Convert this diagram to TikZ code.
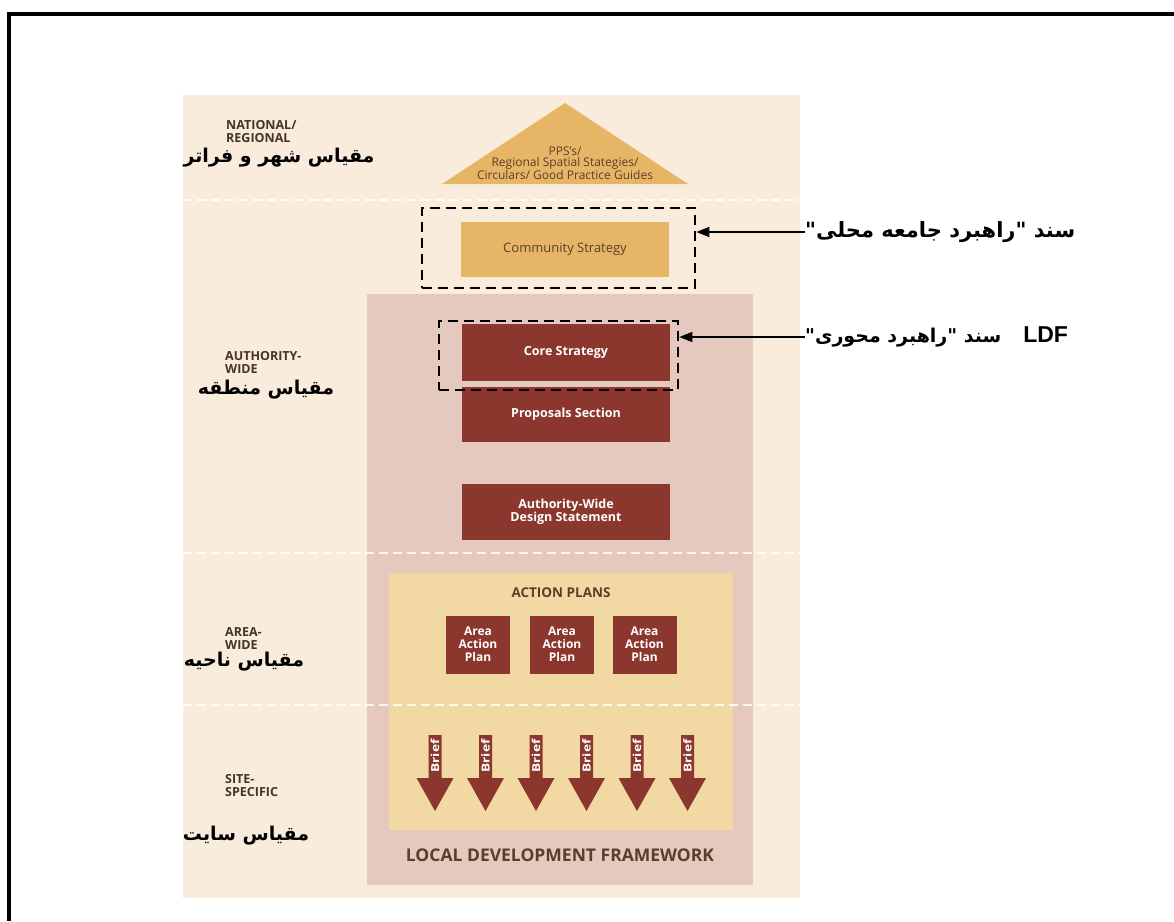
\documentclass[tikz,border=0pt]{standalone}
\usepackage{fontspec}
\setmainfont{Open Sans}
\newfontfamily\fa[Script=Arabic]{DejaVu Sans}
\newfontfamily\lsans{Liberation Sans}
\usetikzlibrary{arrows.meta}
\TeXXeTstate=1
\definecolor{cream}{RGB}{250,236,220}
\definecolor{pinkp}{RGB}{229,201,191}
\definecolor{yellowp}{RGB}{242,216,162}
\definecolor{gold}{RGB}{230,182,102}
\definecolor{dred}{RGB}{139,55,46}
\definecolor{lbltext}{RGB}{70,50,45}
\definecolor{brownt}{RGB}{92,62,42}
\newcommand\dq{\mbox{"}}
\tikzset{
  panel/.style={inner sep=0pt, outer sep=0pt},
  redbox/.style={fill=dred, text=white, font=\fontsize{12.5}{13}\selectfont\bfseries, align=center, inner sep=0pt, minimum width=208pt},
  aapbox/.style={fill=dred, text=white, font=\fontsize{12}{13}\selectfont\bfseries, align=center, inner sep=0pt, minimum width=64pt, minimum height=58pt},
  dbox/.style={draw=black, line width=2.6pt, dash pattern=on 10pt off 6pt, inner sep=0pt},
  sepline/.style={white, line width=2pt, dash pattern=on 9pt off 5pt, opacity=0.85},
  lbl/.style={font=\fontsize{12.5}{13}\selectfont\bfseries, text=lbltext, align=left, anchor=west, inner sep=0pt},
  falbl/.style={font=\fa\bfseries\fontsize{19}{22}\selectfont, inner sep=0pt},
  arr/.style={line width=1.5pt, -{Triangle[length=13pt,width=10pt]}},
  brieftxt/.style={rotate=90, text=white, font=\fontsize{11}{12}\selectfont\bfseries, inner sep=0pt}
}
\begin{document}
\begin{tikzpicture}[x=1pt,y=-1pt]
\useasboundingbox (0,0) rectangle (1174,921);
\fill[white] (0,0) rectangle (1174,921);
% outer frame (top and left)
\draw[line width=4pt] (1174,14) -- (9,14) -- (9,921);
% panels
\node[panel, fill=cream, minimum width=617pt, minimum height=803pt] (bg) at (491.5,496.5) {};
\node[panel, fill=pinkp, minimum width=386pt, minimum height=591pt] (ldf) at (560,589.5) {};
\node[panel, fill=yellowp, minimum width=344pt, minimum height=257pt] (ap) at (561,701.5) {};
% separators
\foreach \yy in {200,553,705} {
  \draw[sepline] (bg.west |- 0,\yy) -- (bg.east |- 0,\yy);
}
% triangle
\coordinate (ta) at (565,103);
\coordinate (tl) at (442,184);
\coordinate (tr) at (688,184);
\fill[gold] (ta) -- (tr) -- (tl) -- cycle;
\node[font=\fontsize{12}{10.5}\selectfont, text=brownt, align=center, inner sep=0pt] (pps) at (565,163) {PPS's/\\Regional Spatial Stategies/\\Circulars/ Good Practice Guides};
% community strategy
\node[panel, fill=gold, minimum width=208pt, minimum height=55pt, text=brownt, font=\fontsize{13}{14}\selectfont] (comm) at (565,249.5) {Community Strategy};
\node[dbox, minimum width=273pt, minimum height=80pt] (d1) at (558.5,248) {};
% authority-wide boxes
\node[redbox, minimum height=57pt] (core) at (566,352.5) {Core Strategy};
\node[redbox, minimum height=55pt] (prop) at (566,414.5) {Proposals Section};
\node[redbox, minimum height=56pt] (awds) at (566,512) {Authority-Wide\\Design Statement};
\node[dbox, minimum width=239pt, minimum height=69pt] (d2) at (558.5,355.5) {};
% action plans
\node[font=\fontsize{13.5}{14}\selectfont\bfseries, text=brownt, inner sep=0pt] (aptitle) at (561,593) {ACTION PLANS};
\node[aapbox] (aap1) at (478,644.5) {Area\\Action\\Plan};
\node[aapbox] (aap2) at (562,644.5) {Area\\Action\\Plan};
\node[aapbox] (aap3) at (644.5,644.5) {Area\\Action\\Plan};
% briefs
\foreach \i/\cx in {1/435,2/485.5,3/536,4/586.5,5/637,6/687.5} {
  \fill[dred] (\cx-6.5,735) -- (\cx+6.5,735) -- (\cx+6.5,778) -- (\cx+18.5,778) -- (\cx,811) -- (\cx-18.5,778) -- (\cx-6.5,778) -- cycle;
  \node[brieftxt] (b\i) at (\cx,756) {\scalebox{1.25}[1]{Brief}};
}
\node[font=\fontsize{17.5}{19}\selectfont\bfseries, text=brownt, inner sep=0pt] (ldftitle) at (560,855) {LOCAL DEVELOPMENT FRAMEWORK};
% left labels
\node[lbl] (l1) at (226,132) {NATIONAL/\\REGIONAL};
\node[falbl] (p1) at (279,158) {\beginR مقیاس شهر و فراتر\endR};
\node[lbl] (l2) at (225,362) {AUTHORITY-\\WIDE};
\node[falbl] (p2) at (266,390) {\beginR مقیاس منطقه\endR};
\node[lbl] (l3) at (225,639) {AREA-\\WIDE};
\node[falbl] (p3) at (244,662) {\beginR مقیاس ناحیه\endR};
\node[lbl] (l4) at (225,785.5) {SITE-\\SPECIFIC};
\node[falbl] (p4) at (246,836) {\beginR مقیاس سایت\endR};
% right labels
\node[falbl, font=\fa\bfseries\fontsize{21}{24}\selectfont, anchor=west] (t1) at (805,232) {\beginR سند \dq راهبرد جامعه محلی\dq\endR};
\node[anchor=west, inner sep=0pt, font=\fa\bfseries\fontsize{19}{22}\selectfont] (t2) at (805,337) {\beginR\beginL{\lsans\fontsize{23}{26}\selectfont\bfseries LDF}\endL\hspace{22pt}سند \dq راهبرد محوری\dq\endR};
\draw[arr] (t1.west) -- (t1.west -| d1.east);
\draw[arr] (t2.west) -- (t2.west -| d2.east);
\end{tikzpicture}
\end{document}
